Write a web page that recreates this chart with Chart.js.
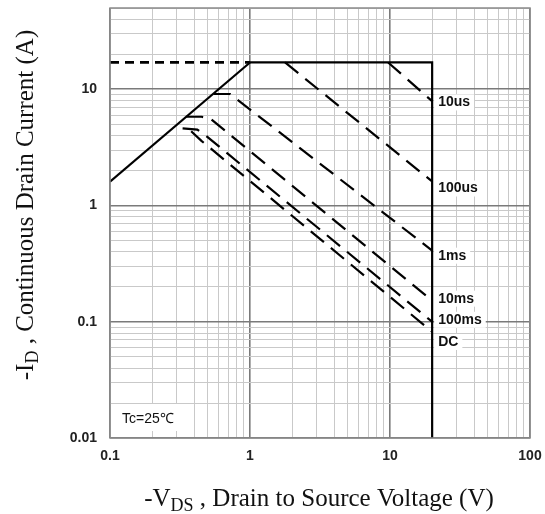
<!doctype html>
<html>
<head>
<title>Safe operating area</title>
<script src="https://cdn.jsdelivr.net/npm/chart.js@4.4.0/dist/chart.umd.min.js"></script>
<style>
  * { margin: 0; padding: 0; }
  body { background: #fff; }
  #wrap { width: 545px; height: 514px; }
</style>
</head>
<body>
<div id="wrap"><canvas id="soa"></canvas></div>
<script>
// -Vds (V) / -Id (A) pairs
const rdsV = [0.1, 1];
const rdsI = [1.6, 17];
const pkgV = [0.1, 1];
const pkgI = [17, 17];
const limV = [1, 20, 20];
const limI = [17, 17, 0.01];
const us10V = [9.7, 20];
const us10I = [17, 7.9];
const us100V = [1.78, 20];
const us100I = [17, 1.61];
const ms1V = [0.55, 0.72, 20];
const ms1I = [9.1, 9.1, 0.41];
const ms10V = [0.35, 0.45, 0.52, 20];
const ms10I = [5.8, 5.8, 5.6, 0.152];
const ms100V = [0.33, 0.42, 0.47, 20];
const ms100I = [4.6, 4.5, 4.1, 0.1];
const dcV = [0.38, 0.45, 20];
const dcI = [4.35, 3.6, 0.082];

const pulseNames = ['10us', '100us', '1ms', '10ms', '100ms', 'DC'];
const pulseLabelI = [7.7, 1.4, 0.37, 0.158, 0.104, 0.067];
const labelV = 20;

const xDecades = [0.1, 1, 10, 100];
const yDecades = [0.01, 0.1, 1, 10];
const mantissas = [1, 2, 3, 4, 5, 6, 7, 8, 9];
const xMin = 0.1, xMax = 100, yMin = 0.01, yMax = 50;

const xGrid = xDecades.flatMap(d => mantissas.map(m => d * m)).filter(v => v <= xMax * 1.0001);
const yGrid = yDecades.flatMap(d => mantissas.map(m => d * m)).filter(v => v <= yMax * 1.0001);

function pts(vs, is) { return vs.map((v, k) => ({ x: v, y: is[k] })); }
function isDecade(v, list) { return list.some(d => Math.abs(v / d - 1) < 1e-6); }
function noPad(s) { s.paddingTop = 0; s.paddingBottom = 0; s.paddingLeft = 0; s.paddingRight = 0; }

const solid = { borderColor: '#000', borderWidth: 2.2, pointRadius: 0, fill: false };
const pulse = { borderColor: '#000', borderWidth: 2.2, pointRadius: 0, fill: false, borderDash: [17, 9] };

const datasets = [
  Object.assign({ data: pts(rdsV, rdsI) }, solid),
  Object.assign({ data: pts(limV, limI) }, solid),
  Object.assign({ data: pts(pkgV, pkgI) }, solid, { borderWidth: 2.8, borderDash: [9, 6] }),
  Object.assign({ data: pts(us10V, us10I) }, pulse),
  Object.assign({ data: pts(us100V, us100I) }, pulse),
  Object.assign({ data: pts(ms1V, ms1I) }, pulse),
  Object.assign({ data: pts(ms10V, ms10I) }, pulse),
  Object.assign({ data: pts(ms100V, ms100I) }, pulse),
  Object.assign({ data: pts(dcV, dcI) }, pulse)
];

const tickFont = { family: "'Liberation Sans', Arial, sans-serif", size: 14, weight: 'bold' };

const extras = {
  id: 'extras',
  afterDatasetsDraw(chart) {
    const ctx = chart.ctx;
    const a = chart.chartArea;
    const xs = chart.scales.x, ys = chart.scales.y;
    ctx.save();
    // frame
    ctx.strokeStyle = '#8a8a8a';
    ctx.lineWidth = 1.5;
    ctx.strokeRect(a.left, a.top, a.right - a.left, a.bottom - a.top);

    // pulse width labels
    ctx.font = "bold 14px 'Liberation Sans', Arial, sans-serif";
    ctx.textBaseline = 'middle';
    ctx.textAlign = 'left';
    const lx = xs.getPixelForValue(labelV) + 6;
    pulseNames.forEach((name, k) => {
      const ly = ys.getPixelForValue(pulseLabelI[k]);
      const w = ctx.measureText(name).width;
      ctx.fillStyle = '#fff';
      ctx.fillRect(lx - 4, ly - 8, w + 8, 16);
      ctx.fillStyle = '#111';
      ctx.fillText(name, lx, ly);
    });

    // case temperature note
    ctx.fillStyle = '#fff';
    ctx.fillRect(a.left + 3, a.bottom - 34, 66, 27);
    ctx.fillStyle = '#111';
    ctx.font = "14px 'Liberation Sans', Arial, sans-serif";
    ctx.fillText('Tc=25\u2103', a.left + 12, a.bottom - 19);
    ctx.restore();
  },
  afterDraw(chart) {
    const ctx = chart.ctx;
    const main = "25px 'Liberation Serif', 'Times New Roman', serif";
    const sub = "18px 'Liberation Serif', 'Times New Roman', serif";
    function rich(parts, cx, by) {
      let total = 0;
      parts.forEach(p => { ctx.font = p[1] ? sub : main; total += ctx.measureText(p[0]).width; });
      let x = cx - total / 2;
      parts.forEach(p => {
        ctx.font = p[1] ? sub : main;
        ctx.fillText(p[0], x, by + (p[1] ? 5 : 0));
        x += ctx.measureText(p[0]).width;
      });
    }
    ctx.save();
    ctx.fillStyle = '#111';
    ctx.textBaseline = 'alphabetic';
    ctx.textAlign = 'left';
    rich([['-V', false], ['DS', true], [' , Drain to Source Voltage (V)', false]], 319, 506);
    ctx.translate(33, 205);
    ctx.rotate(-Math.PI / 2);
    rich([['-I', false], ['D', true], [' , Continuous Drain Current (A)', false]], 0, 0);
    ctx.restore();
  }
};

new Chart(document.getElementById('soa'), {
  type: 'line',
  data: { datasets: datasets },
  options: {
    responsive: true,
    maintainAspectRatio: false,
    animation: false,
    layout: { padding: { top: 8, right: 15, left: 0, bottom: 0 } },
    plugins: { legend: { display: false }, tooltip: { enabled: false } },
    scales: {
      x: {
        type: 'logarithmic',
        min: xMin,
        max: xMax,
        afterBuildTicks: s => { s.ticks = xGrid.map(v => ({ value: v })); },
        afterFit: s => { s.height = 76; noPad(s); },
        border: { display: false },
        grid: {
          drawTicks: false,
          color: c => isDecade(c.tick.value, xDecades) ? '#7a7a7a' : '#c9c9c9',
          lineWidth: c => isDecade(c.tick.value, xDecades) ? 1.6 : 1
        },
        ticks: {
          autoSkip: false,
          maxRotation: 0,
          padding: 10,
          color: '#222',
          font: tickFont,
          callback: v => isDecade(v, xDecades) ? String(xDecades.find(d => Math.abs(v / d - 1) < 1e-6)) : ''
        }
      },
      y: {
        type: 'logarithmic',
        min: yMin,
        max: yMax,
        afterBuildTicks: s => { s.ticks = yGrid.map(v => ({ value: v })); },
        afterFit: s => { s.width = 110; noPad(s); },
        border: { display: false },
        grid: {
          drawTicks: false,
          color: c => isDecade(c.tick.value, yDecades) ? '#7a7a7a' : '#c9c9c9',
          lineWidth: c => isDecade(c.tick.value, yDecades) ? 1.6 : 1
        },
        ticks: {
          autoSkip: false,
          padding: 13,
          color: '#222',
          font: tickFont,
          callback: v => isDecade(v, yDecades) ? String(yDecades.find(d => Math.abs(v / d - 1) < 1e-6)) : ''
        }
      }
    }
  },
  plugins: [extras]
});
</script>
</body>
</html>
